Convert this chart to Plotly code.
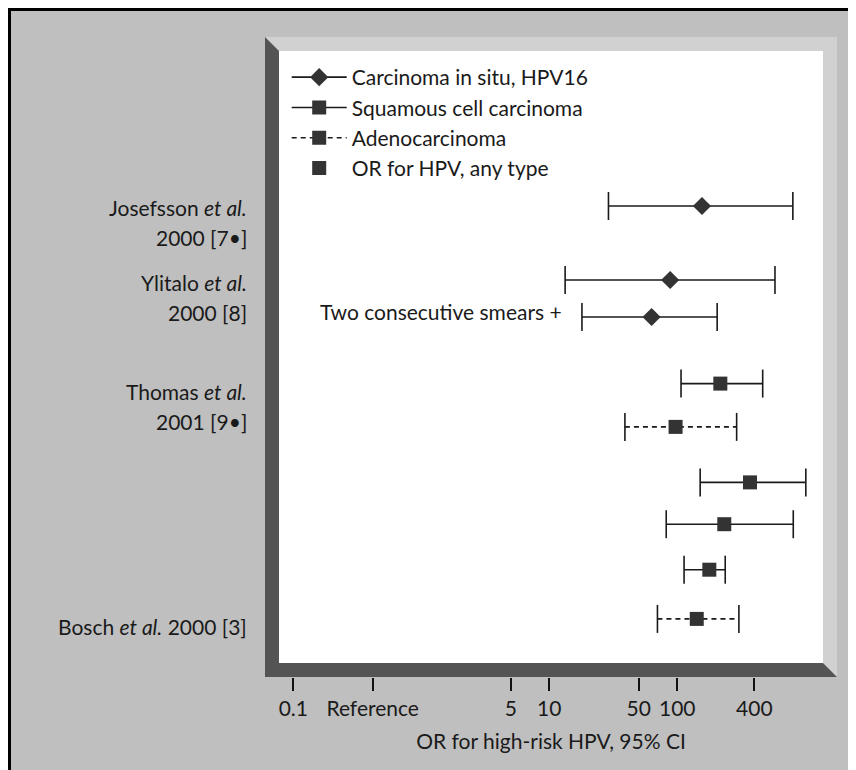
import plotly.graph_objects as go

# ---------------- data ----------------
row_pos = [1.0, 3.0, 4.0, 5.8, 6.97, 8.47, 9.6, 10.83, 12.16]
row_series = ["cis", "cis", "cis", "scc", "adeno", "scc", "scc", "any", "adeno"]
or_point = [156, 88, 63, 217, 97, 370, 233, 178, 142]
ci_low = [29, 13.3, 18, 107, 39, 151, 82, 113, 70]
ci_high = [800, 580, 205, 465, 291, 1010, 806, 237, 303]

series_keys = ["cis", "scc", "adeno", "any"]
series_names = ["Carcinoma in situ, HPV16", "Squamous cell carcinoma",
                "Adenocarcinoma", "OR for HPV, any type"]

tick_vals = [0.1, 0.417, 5, 10, 50, 100, 400]
tick_text = ["0.1", "Reference", "5", "10", "50", "100", "400"]

study_labels = [
    ("Josefsson <i>et al.</i>", 207.5),
    ("2000 [7\u2022]", 237),
    ("Ylitalo <i>et al.</i>", 282.5),
    ("2000 [8]", 312),
    ("Thomas <i>et al.</i>", 391.7),
    ("2001 [9\u2022]", 421.7),
    ("Bosch <i>et al.</i> 2000 [3]", 626.7),
]
note_text = "Two consecutive smears +"

# ---------------- styling ----------------
FONT = "Lato"
INK = "#1a1a1a"
MARK = "#333333"
BG = "#bfbfbf"
LIGHT = "#d1d1d1"
DARK = "#545454"

OFF = 8                      # page body margin
W, H = 856 - OFF, 770 - OFF
L, R, T, B = 265, 837, 37, 677  # plot area in window pixels


def px(x):
    return (x - L) / (R - L)


def py(y):
    return (B - y) / (B - T)


style = {
    "cis": dict(symbol="diamond", size=14, dash="solid"),
    "scc": dict(symbol="square", size=14, dash="solid"),
    "adeno": dict(symbol="square", size=14, dash="5px,4px"),
    "any": dict(symbol="square", size=14, dash="solid"),
}

fig = go.Figure()

for key in series_keys:
    idx = [i for i, s in enumerate(row_series) if s == key]
    if not idx:
        continue
    xs, ys = [], []
    for i in idx:
        xs += [ci_low[i], ci_high[i], None]
        ys += [row_pos[i], row_pos[i], None]
    fig.add_trace(go.Scatter(x=xs, y=ys, mode="lines",
                             line=dict(color=INK, width=1.6, dash=style[key]["dash"]),
                             showlegend=False, hoverinfo="skip"))
    fig.add_trace(go.Scatter(x=[ci_low[i] for i in idx] + [ci_high[i] for i in idx],
                             y=[row_pos[i] for i in idx] * 2, mode="markers",
                             marker=dict(symbol="line-ns", size=20,
                                         line=dict(color=INK, width=1.6)),
                             showlegend=False, hoverinfo="skip"))
    fig.add_trace(go.Scatter(x=[or_point[i] for i in idx], y=[row_pos[i] for i in idx],
                             mode="markers",
                             marker=dict(symbol=style[key]["symbol"], size=style[key]["size"],
                                         color=MARK, line=dict(width=0)),
                             showlegend=False))

# legend entries
for key, name in zip(series_keys, series_names):
    fig.add_trace(go.Scatter(
        x=[None], y=[None], name=name,
        mode="markers" if key == "any" else "lines+markers",
        line=dict(color=INK, width=1.6, dash=style[key]["dash"]),
        marker=dict(symbol=style[key]["symbol"], size=style[key]["size"], color=MARK),
    ))

shapes = []
# grey frame with black top/left border
shapes.append(dict(type="rect", xref="paper", yref="paper", layer="below",
                   x0=px(9), x1=px(870), y0=py(790), y1=py(9),
                   fillcolor=BG, line=dict(width=0)))
shapes.append(dict(type="line", xref="paper", yref="paper", layer="below",
                   x0=px(9), x1=px(870), y0=py(9.5), y1=py(9.5), line=dict(color="black", width=3)))
shapes.append(dict(type="line", xref="paper", yref="paper", layer="below",
                   x0=px(9.5), x1=px(9.5), y0=py(8), y1=py(790), line=dict(color="black", width=3)))

# bevelled panel
def path(pts):
    return "M " + " L ".join(f"{px(a):.5f},{py(b):.5f}" for a, b in pts) + " Z"

il, ir, it, ib = 279, 823, 51, 663
shapes.append(dict(type="path", xref="paper", yref="paper", layer="below",
                   path=path([(L, T), (R, T), (R, B), (ir, ib), (ir, it), (il, it)]),
                   fillcolor=LIGHT, line=dict(width=0)))
shapes.append(dict(type="path", xref="paper", yref="paper", layer="below",
                   path=path([(L, T), (il, it), (il, ib), (ir, ib), (R, B), (L, B)]),
                   fillcolor=DARK, line=dict(width=0)))
shapes.append(dict(type="rect", xref="paper", yref="paper", layer="below",
                   x0=px(il), x1=px(ir), y0=py(ib), y1=py(it),
                   fillcolor="white", line=dict(width=0)))

annotations = []
for text, yc in study_labels:
    annotations.append(dict(text=text, xref="paper", yref="paper", x=px(249), y=py(yc),
                            xanchor="right", yanchor="middle", showarrow=False,
                            font=dict(family=FONT, size=21, color=INK)))
annotations.append(dict(text=note_text, xref="paper", yref="y", x=px(564), y=row_pos[2],
                        xanchor="right", yanchor="middle", yshift=6, showarrow=False,
                        font=dict(family=FONT, size=21, color=INK)))

fig.update_layout(
    width=W, height=H,
    margin=dict(l=L - OFF, r=856 - R, t=T - OFF, b=770 - B, pad=0),
    paper_bgcolor="white", plot_bgcolor="rgba(0,0,0,0)",
    font=dict(family=FONT, size=21, color=INK),
    shapes=shapes, annotations=annotations,
    showlegend=True,
    legend=dict(x=px(286.7), y=py(57), xanchor="left", yanchor="top",
                bgcolor="rgba(0,0,0,0)", borderwidth=0,
                font=dict(family=FONT, size=21, color=INK),
                itemwidth=55, tracegroupgap=0),
    xaxis=dict(type="log", range=[-1.221, 3.248], tickvals=tick_vals, ticktext=tick_text,
               ticks="outside", ticklen=13, tickwidth=2, tickcolor="#111",
               showgrid=False, zeroline=False, showline=False,
               tickfont=dict(family=FONT, size=21, color=INK),
               title=dict(text="OR for high-risk HPV, 95% CI", standoff=15,
                          font=dict(family=FONT, size=21, color=INK))),
    yaxis=dict(range=[13.73, -3.568], visible=False),
)

fig.write_html("out.html")
